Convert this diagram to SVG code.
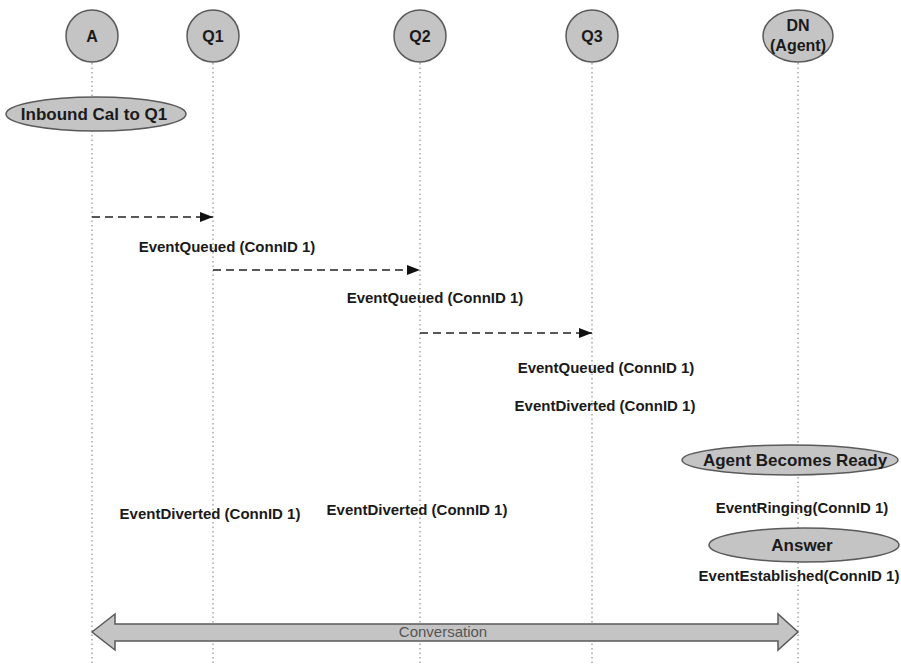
<svg xmlns="http://www.w3.org/2000/svg" width="901" height="664" viewBox="0 0 901 664">
<style>
.node{fill:#c4c4c4;stroke:#5a5a5a;stroke-width:1.5}
.nt{font-family:"Liberation Sans",Arial,sans-serif;font-weight:bold;font-size:16px;fill:#1a1a1a;text-anchor:middle}
.et{font-family:"Liberation Sans",Arial,sans-serif;font-weight:bold;font-size:17px;fill:#1a1a1a;text-anchor:middle}
.lbl{font-family:"Liberation Sans",Arial,sans-serif;font-weight:bold;font-size:15px;fill:#1a1a1a;text-anchor:middle}
.life{stroke:#9a9a9a;stroke-width:1.3;stroke-dasharray:1.5 3;fill:none}
.msg{stroke:#222;stroke-width:1.5;stroke-dasharray:8 5;fill:none}
.conv{fill:#c4c4c4;stroke:#5a5a5a;stroke-width:1.5}
.ct{font-family:"Liberation Sans",Arial,sans-serif;font-size:15px;fill:#555;text-anchor:middle}
</style>
<defs>
<marker id="ah" viewBox="0 0 13 10" refX="13" refY="5" markerWidth="13" markerHeight="10" markerUnits="userSpaceOnUse" orient="auto">
<path d="M0,0 L13,5 L0,10 z" fill="#111"/>
</marker>
</defs>
<g id="lifelines">
<line class="life" x1="92" y1="63" x2="92" y2="664"/>
<line class="life" x1="213" y1="63" x2="213" y2="664"/>
<line class="life" x1="420" y1="63" x2="420" y2="664"/>
<line class="life" x1="592" y1="63" x2="592" y2="664"/>
<line class="life" x1="798" y1="63" x2="798" y2="664"/>
</g>
<g id="node-A"><circle class="node" cx="92" cy="36" r="26"/><text class="nt" x="92" y="42">A</text></g>
<g id="node-Q1"><circle class="node" cx="213" cy="36" r="26"/><text class="nt" x="213" y="42">Q1</text></g>
<g id="node-Q2"><circle class="node" cx="420" cy="36" r="26"/><text class="nt" x="420" y="42">Q2</text></g>
<g id="node-Q3"><circle class="node" cx="592" cy="36" r="26"/><text class="nt" x="592" y="42">Q3</text></g>
<g id="node-DN"><ellipse class="node" cx="798" cy="36" rx="35" ry="26"/><text class="nt" x="798" y="31">DN</text><text class="nt" x="798" y="51">(Agent)</text></g>
<g id="node-inbound"><ellipse class="node" cx="96" cy="114" rx="90" ry="17"/><text class="et" x="94" y="120">Inbound Cal to Q1</text></g>
<g id="node-ready"><ellipse class="node" cx="790" cy="460" rx="108" ry="15"/><text class="et" x="795" y="466">Agent Becomes Ready</text></g>
<g id="node-answer"><ellipse class="node" cx="804" cy="545" rx="95" ry="17"/><text class="et" x="802" y="551">Answer</text></g>
<g id="connectors">
<line class="msg" x1="92" y1="217" x2="213" y2="217" marker-end="url(#ah)"/>
<line class="msg" x1="213" y1="270" x2="420" y2="270" marker-end="url(#ah)"/>
<line class="msg" x1="420" y1="333" x2="592" y2="333" marker-end="url(#ah)"/>
<polygon class="conv" points="92,632 115,614 115,624 778,624 778,614 798,632 778,650 778,641 115,641 115,650"/>
<text class="ct" x="443" y="637">Conversation</text>
</g>
<g id="labels">
<text class="lbl" x="227" y="252">EventQueued (ConnID 1)</text>
<text class="lbl" x="435" y="303">EventQueued (ConnID 1)</text>
<text class="lbl" x="606" y="373">EventQueued (ConnID 1)</text>
<text class="lbl" x="605" y="411">EventDiverted (ConnID 1)</text>
<text class="lbl" x="210" y="519">EventDiverted (ConnID 1)</text>
<text class="lbl" x="417" y="515">EventDiverted (ConnID 1)</text>
<text class="lbl" x="802" y="513">EventRinging(ConnID 1)</text>
<text class="lbl" x="799" y="581">EventEstablished(ConnID 1)</text>
</g>
</svg>
